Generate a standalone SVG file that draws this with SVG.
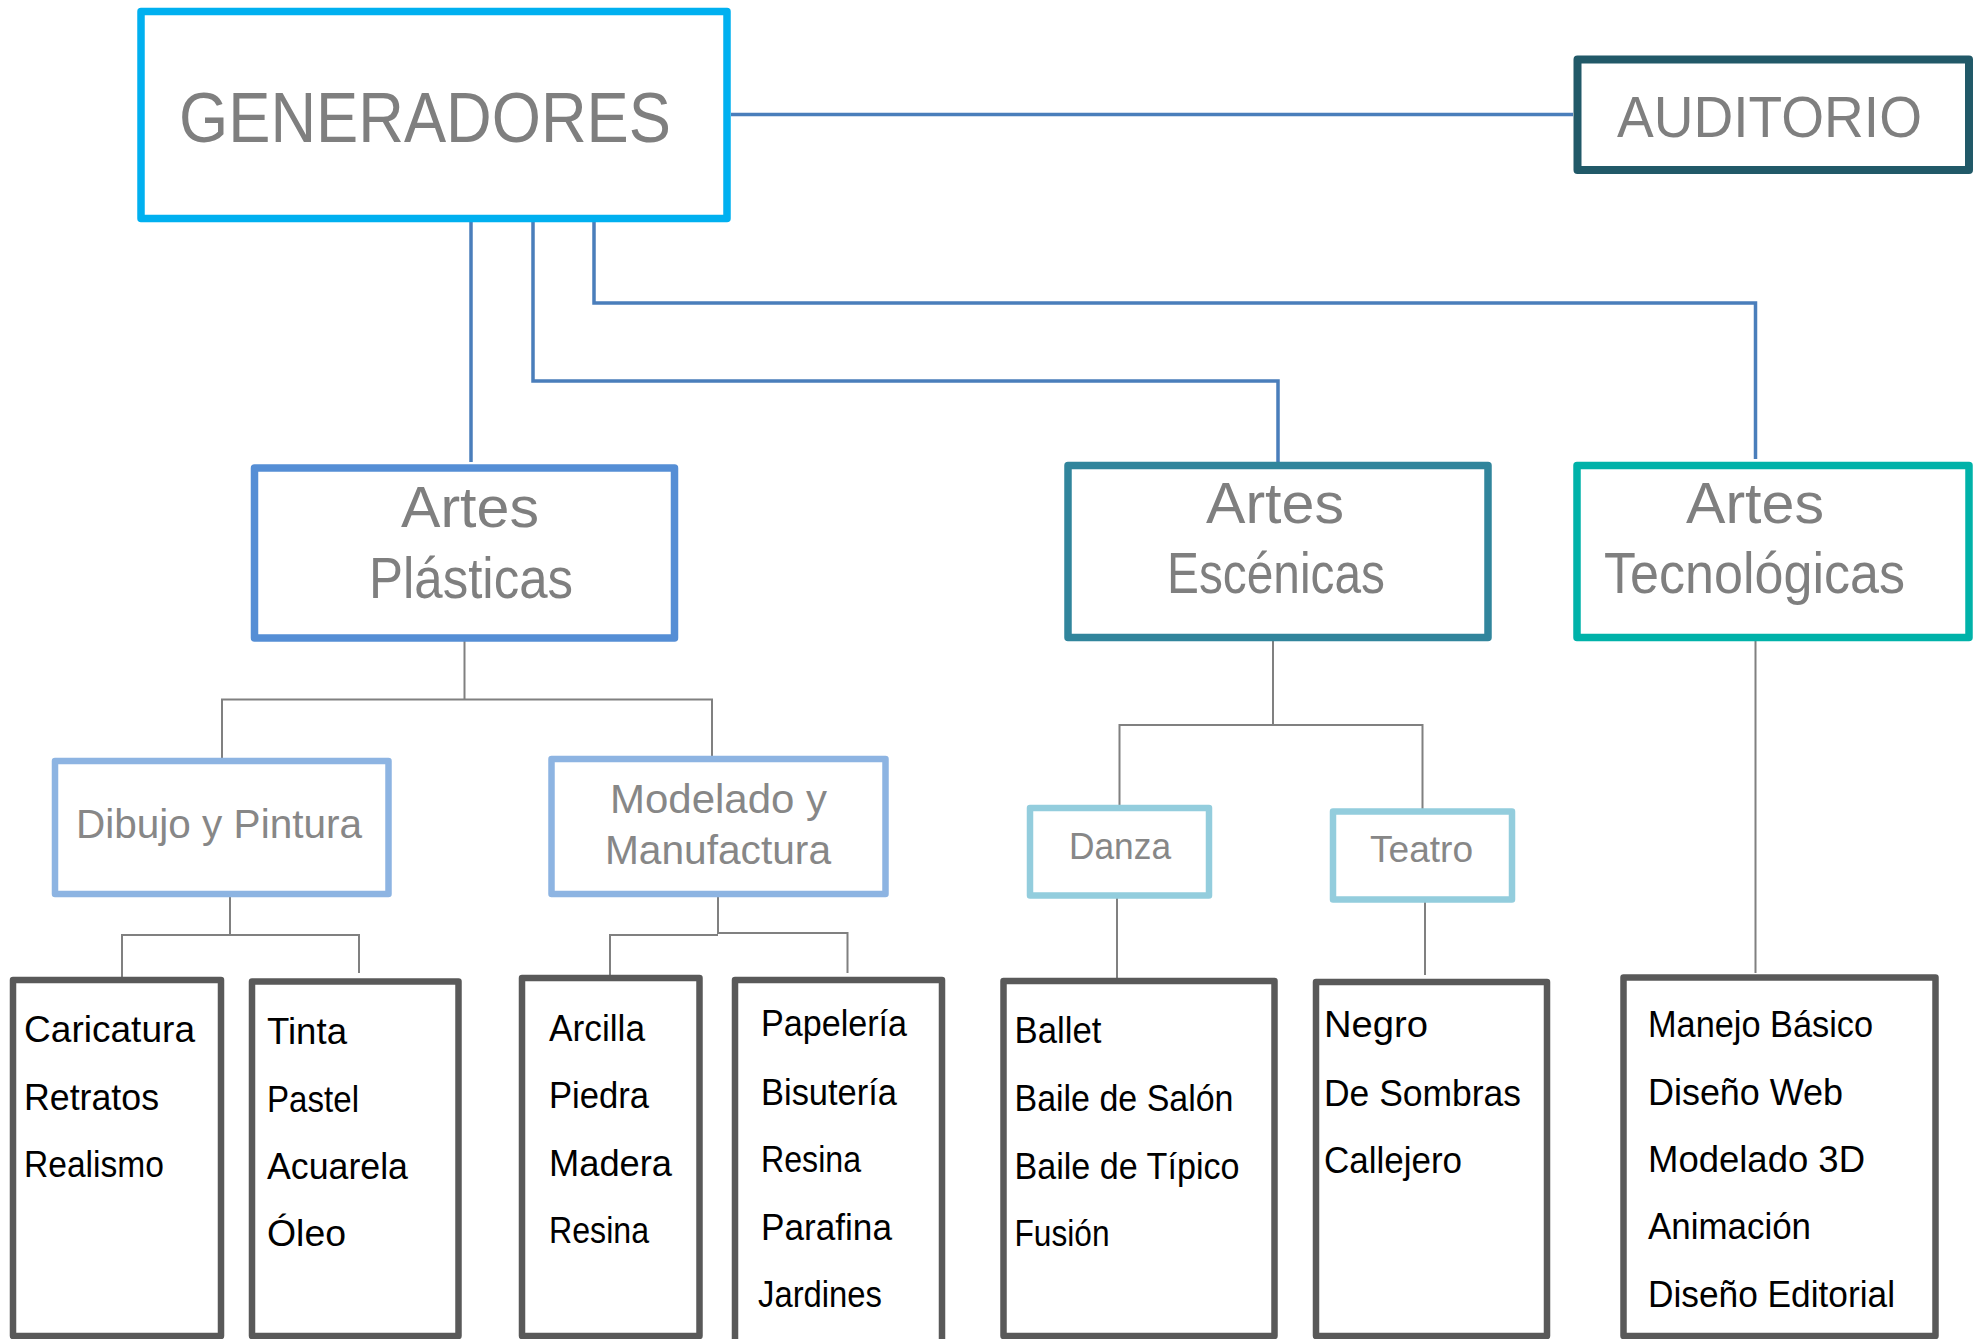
<svg xmlns="http://www.w3.org/2000/svg" width="1976" height="1339" viewBox="0 0 1976 1339">
<style>
rect{fill:#fff;stroke-linejoin:round}
.h{font-family:"Liberation Sans",Arial,sans-serif;fill:#7f7f7f}
.s{font-family:"Liberation Sans",Arial,sans-serif;fill:#878787}
.t{font-family:"Liberation Sans",Arial,sans-serif;fill:#000;font-size:36px}
.leaf{stroke:#595959;stroke-width:6.5}
.sub1{stroke:#8db4e2;stroke-width:6.5}
.sub2{stroke:#93cddd;stroke-width:6.5}
.blue{fill:none;stroke:#4a7ebb;stroke-width:3.5}
.gray{fill:none;stroke:#808080;stroke-width:2}
</style>
<rect width="1976" height="1339" fill="#fff" stroke="none"/>
<g id="connectors">
<path class="blue" d="M731 114.5H1573"/>
<path class="blue" d="M471 222V462"/>
<path class="blue" d="M533 222V381H1278V462"/>
<path class="blue" d="M594 222V303H1755.5V459"/>
<path class="gray" d="M464.5 641V699.5"/>
<path class="gray" d="M222 760.5V699.5H712V763"/>
<path class="gray" d="M230 897V935"/>
<path class="gray" d="M122 977V935H359V973"/>
<path class="gray" d="M718 897V934"/>
<path class="gray" d="M610 976V935H718"/>
<path class="gray" d="M718 933H847.5V973"/>
<path class="gray" d="M1273 641V725"/>
<path class="gray" d="M1119.5 807V725H1422.5V811"/>
<path class="gray" d="M1117 898V978"/>
<path class="gray" d="M1425 896V975"/>
<path class="gray" d="M1755.5 623V973"/>
</g>
<g id="generadores">
<rect x="141" y="11.5" width="586" height="207" stroke="#00b0f0" stroke-width="7.5"/>
<text class="h" x="179" y="142" font-size="71" textLength="492" lengthAdjust="spacingAndGlyphs">GENERADORES</text>
</g>
<g id="auditorio">
<rect x="1577.5" y="59.5" width="391.5" height="110.5" stroke="#215968" stroke-width="8"/>
<text class="h" x="1617" y="137" font-size="58" textLength="305" lengthAdjust="spacingAndGlyphs">AUDITORIO</text>
</g>
<g id="artes-plasticas">
<rect x="254.5" y="468" width="420" height="170" stroke="#558ed5" stroke-width="7.5"/>
<text class="h" x="401" y="527" font-size="57" textLength="138" lengthAdjust="spacingAndGlyphs">Artes</text>
<text class="h" x="369" y="598" font-size="57" textLength="204" lengthAdjust="spacingAndGlyphs">Plásticas</text>
</g>
<g id="artes-escenicas">
<rect x="1068" y="465.5" width="420" height="172" stroke="#31859c" stroke-width="7.5"/>
<text class="h" x="1206" y="523" font-size="57" textLength="138" lengthAdjust="spacingAndGlyphs">Artes</text>
<text class="h" x="1167" y="593" font-size="57" textLength="218" lengthAdjust="spacingAndGlyphs">Escénicas</text>
</g>
<g id="artes-tecnologicas">
<rect x="1577" y="465.5" width="392" height="172" stroke="#00b2a9" stroke-width="7.5"/>
<text class="h" x="1686" y="523" font-size="57" textLength="138" lengthAdjust="spacingAndGlyphs">Artes</text>
<text class="h" x="1604" y="593" font-size="57" textLength="301" lengthAdjust="spacingAndGlyphs">Tecnológicas</text>
</g>
<g id="dibujo-pintura">
<rect class="sub1" x="55" y="761" width="333.5" height="133"/>
<text class="s" x="76" y="838" font-size="40" textLength="286" lengthAdjust="spacingAndGlyphs">Dibujo y Pintura</text>
</g>
<g id="modelado-manufactura">
<rect class="sub1" x="551.5" y="759" width="334" height="135"/>
<text class="s" x="610" y="813" font-size="40" textLength="217" lengthAdjust="spacingAndGlyphs">Modelado y</text>
<text class="s" x="605" y="863.5" font-size="40" textLength="226" lengthAdjust="spacingAndGlyphs">Manufactura</text>
</g>
<g id="danza">
<rect class="sub2" x="1030" y="808" width="179" height="87.5"/>
<text class="s" x="1069" y="858.5" font-size="37" textLength="102" lengthAdjust="spacingAndGlyphs">Danza</text>
</g>
<g id="teatro">
<rect class="sub2" x="1333" y="811.5" width="179" height="88"/>
<text class="s" x="1370" y="862" font-size="37" textLength="103" lengthAdjust="spacingAndGlyphs">Teatro</text>
</g>
<g id="dibujo-lista">
<rect class="leaf" x="13" y="980" width="208" height="356"/>
<text class="t" x="24" y="1042" textLength="171" lengthAdjust="spacingAndGlyphs">Caricatura</text>
<text class="t" x="24" y="1110" textLength="135" lengthAdjust="spacingAndGlyphs">Retratos</text>
<text class="t" x="24" y="1177" textLength="140" lengthAdjust="spacingAndGlyphs">Realismo</text>
</g>
<g id="pintura-lista">
<rect class="leaf" x="252" y="981.5" width="206.5" height="354.5"/>
<text class="t" x="267" y="1044" textLength="80" lengthAdjust="spacingAndGlyphs">Tinta</text>
<text class="t" x="267" y="1111.5" textLength="92" lengthAdjust="spacingAndGlyphs">Pastel</text>
<text class="t" x="267" y="1178.5" textLength="141" lengthAdjust="spacingAndGlyphs">Acuarela</text>
<text class="t" x="267" y="1245.5" textLength="79" lengthAdjust="spacingAndGlyphs">Óleo</text>
</g>
<g id="modelado-lista">
<rect class="leaf" x="522" y="978" width="177.5" height="358"/>
<text class="t" x="549" y="1041" textLength="96" lengthAdjust="spacingAndGlyphs">Arcilla</text>
<text class="t" x="549" y="1108" textLength="100" lengthAdjust="spacingAndGlyphs">Piedra</text>
<text class="t" x="549" y="1175.5" textLength="123" lengthAdjust="spacingAndGlyphs">Madera</text>
<text class="t" x="549" y="1242.5" textLength="100" lengthAdjust="spacingAndGlyphs">Resina</text>
</g>
<g id="manufactura-lista">
<rect class="leaf" x="735" y="980" width="207" height="370"/>
<text class="t" x="761" y="1036" textLength="146" lengthAdjust="spacingAndGlyphs">Papelería</text>
<text class="t" x="761" y="1104.5" textLength="136" lengthAdjust="spacingAndGlyphs">Bisutería</text>
<text class="t" x="761" y="1172" textLength="100" lengthAdjust="spacingAndGlyphs">Resina</text>
<text class="t" x="761" y="1239.5" textLength="131" lengthAdjust="spacingAndGlyphs">Parafina</text>
<text class="t" x="758" y="1306.5" textLength="124" lengthAdjust="spacingAndGlyphs">Jardines</text>
</g>
<g id="danza-lista">
<rect class="leaf" x="1003.5" y="981" width="271" height="355"/>
<text class="t" x="1014.5" y="1042.5" textLength="87" lengthAdjust="spacingAndGlyphs">Ballet</text>
<text class="t" x="1014.5" y="1111" textLength="219" lengthAdjust="spacingAndGlyphs">Baile de Salón</text>
<text class="t" x="1014.5" y="1178.5" textLength="225" lengthAdjust="spacingAndGlyphs">Baile de Típico</text>
<text class="t" x="1014.5" y="1246" textLength="95" lengthAdjust="spacingAndGlyphs">Fusión</text>
</g>
<g id="teatro-lista">
<rect class="leaf" x="1316" y="982" width="231" height="354"/>
<text class="t" x="1324" y="1037" textLength="104" lengthAdjust="spacingAndGlyphs">Negro</text>
<text class="t" x="1324" y="1105.5" textLength="197" lengthAdjust="spacingAndGlyphs">De Sombras</text>
<text class="t" x="1324" y="1172.5" textLength="138" lengthAdjust="spacingAndGlyphs">Callejero</text>
</g>
<g id="tecnologicas-lista">
<rect class="leaf" x="1623.5" y="977.5" width="312" height="358.5"/>
<text class="t" x="1648" y="1036.5" textLength="225" lengthAdjust="spacingAndGlyphs">Manejo Básico</text>
<text class="t" x="1648" y="1104.5" textLength="195" lengthAdjust="spacingAndGlyphs">Diseño Web</text>
<text class="t" x="1648" y="1172" textLength="217" lengthAdjust="spacingAndGlyphs">Modelado 3D</text>
<text class="t" x="1648" y="1239" textLength="163" lengthAdjust="spacingAndGlyphs">Animación</text>
<text class="t" x="1648" y="1306.5" textLength="247" lengthAdjust="spacingAndGlyphs">Diseño Editorial</text>
</g>
</svg>
